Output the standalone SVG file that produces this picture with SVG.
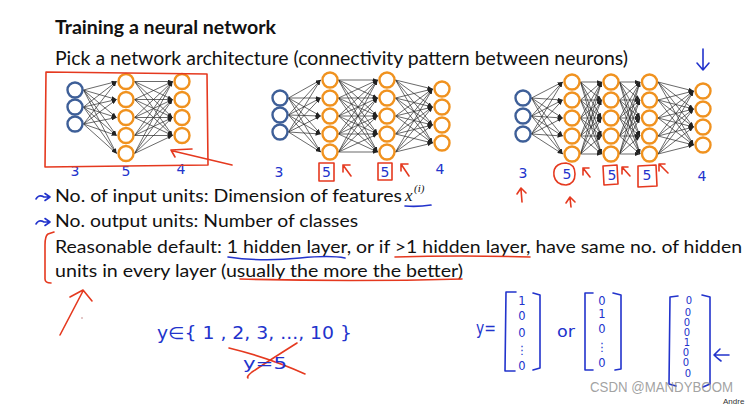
<svg xmlns="http://www.w3.org/2000/svg" width="749" height="404" viewBox="0 0 749 404">
<defs>
<style>
.t{font-family:Lato,"Open Sans","Liberation Sans",sans-serif;fill:#111;}
.in{fill:#fff;stroke:#3e5f98;stroke-width:2.4;}
.hd{fill:#fff;stroke:#f0921f;stroke-width:2.4;}
.e line{stroke:#2a2a2a;stroke-width:0.7;marker-end:url(#a);}
.b{font-family:"DejaVu Sans","Liberation Sans",sans-serif;fill:#2233cc;text-anchor:middle;}
.rp{fill:none;stroke:#e5391f;stroke-width:1.6;stroke-linecap:round;stroke-linejoin:round;}
.bp{fill:none;stroke:#2233cc;stroke-width:1.6;stroke-linecap:round;stroke-linejoin:round;}
</style>
<marker id="a" viewBox="0 0 10 8" refX="10" refY="4" markerWidth="5" markerHeight="4" markerUnits="userSpaceOnUse" orient="auto"><path d="M0,0 L10,4 L0,8 z" fill="#222"/></marker>
</defs>
<rect width="749" height="404" fill="#fff"/>

<text class="t" x="55" y="34" font-size="18.5" font-weight="bold" textLength="221" lengthAdjust="spacingAndGlyphs">Training a neural network</text>
<text class="t" x="55" y="65" font-size="18.5" textLength="573" lengthAdjust="spacingAndGlyphs">Pick a network architecture (connectivity pattern between neurons)</text>
<text class="t" x="55" y="201.5" font-size="17.5" textLength="347" lengthAdjust="spacingAndGlyphs">No. of input units: Dimension of features</text>
<text x="405" y="201" font-size="17" font-style="italic" font-family="'Liberation Serif',serif" fill="#111">x</text>
<text x="414" y="192" font-size="11" font-style="italic" font-family="'Liberation Serif',serif" fill="#111">(i)</text>
<text class="t" x="55" y="226.5" font-size="17.5" textLength="303" lengthAdjust="spacingAndGlyphs">No. output units: Number of classes</text>
<text class="t" x="55" y="252.5" font-size="17.5" textLength="687" lengthAdjust="spacingAndGlyphs">Reasonable default: 1 hidden layer, or if &gt;1 hidden layer, have same no. of hidden</text>
<text class="t" x="55" y="276.5" font-size="17.5" textLength="408" lengthAdjust="spacingAndGlyphs">units in every layer (usually the more the better)</text>

<g id="connectors" class="e">
<line x1="83.5" y1="90" x2="116.5" y2="81.5"/><line x1="83.5" y1="90" x2="116.5" y2="99.5"/><line x1="83.5" y1="90" x2="116.5" y2="117.5"/><line x1="83.5" y1="90" x2="116.5" y2="135.5"/><line x1="83.5" y1="90" x2="116.5" y2="153.5"/>
<line x1="83.5" y1="107" x2="116.5" y2="81.5"/><line x1="83.5" y1="107" x2="116.5" y2="99.5"/><line x1="83.5" y1="107" x2="116.5" y2="117.5"/><line x1="83.5" y1="107" x2="116.5" y2="135.5"/><line x1="83.5" y1="107" x2="116.5" y2="153.5"/>
<line x1="83.5" y1="124" x2="116.5" y2="81.5"/><line x1="83.5" y1="124" x2="116.5" y2="99.5"/><line x1="83.5" y1="124" x2="116.5" y2="117.5"/><line x1="83.5" y1="124" x2="116.5" y2="135.5"/><line x1="83.5" y1="124" x2="116.5" y2="153.5"/>
<line x1="134.5" y1="81.5" x2="172.5" y2="81.5"/><line x1="134.5" y1="81.5" x2="172.5" y2="99.5"/><line x1="134.5" y1="81.5" x2="172.5" y2="117.5"/><line x1="134.5" y1="81.5" x2="172.5" y2="135.5"/>
<line x1="134.5" y1="99.5" x2="172.5" y2="81.5"/><line x1="134.5" y1="99.5" x2="172.5" y2="99.5"/><line x1="134.5" y1="99.5" x2="172.5" y2="117.5"/><line x1="134.5" y1="99.5" x2="172.5" y2="135.5"/>
<line x1="134.5" y1="117.5" x2="172.5" y2="81.5"/><line x1="134.5" y1="117.5" x2="172.5" y2="99.5"/><line x1="134.5" y1="117.5" x2="172.5" y2="117.5"/><line x1="134.5" y1="117.5" x2="172.5" y2="135.5"/>
<line x1="134.5" y1="135.5" x2="172.5" y2="81.5"/><line x1="134.5" y1="135.5" x2="172.5" y2="99.5"/><line x1="134.5" y1="135.5" x2="172.5" y2="117.5"/><line x1="134.5" y1="135.5" x2="172.5" y2="135.5"/>
<line x1="134.5" y1="153.5" x2="172.5" y2="81.5"/><line x1="134.5" y1="153.5" x2="172.5" y2="99.5"/><line x1="134.5" y1="153.5" x2="172.5" y2="117.5"/><line x1="134.5" y1="153.5" x2="172.5" y2="135.5"/>
<line x1="288.5" y1="98" x2="320.5" y2="80"/><line x1="288.5" y1="98" x2="320.5" y2="98"/><line x1="288.5" y1="98" x2="320.5" y2="116"/><line x1="288.5" y1="98" x2="320.5" y2="134"/><line x1="288.5" y1="98" x2="320.5" y2="152"/>
<line x1="288.5" y1="115" x2="320.5" y2="80"/><line x1="288.5" y1="115" x2="320.5" y2="98"/><line x1="288.5" y1="115" x2="320.5" y2="116"/><line x1="288.5" y1="115" x2="320.5" y2="134"/><line x1="288.5" y1="115" x2="320.5" y2="152"/>
<line x1="288.5" y1="132" x2="320.5" y2="80"/><line x1="288.5" y1="132" x2="320.5" y2="98"/><line x1="288.5" y1="132" x2="320.5" y2="116"/><line x1="288.5" y1="132" x2="320.5" y2="134"/><line x1="288.5" y1="132" x2="320.5" y2="152"/>
<line x1="338.5" y1="80" x2="377.5" y2="80"/><line x1="338.5" y1="80" x2="377.5" y2="98"/><line x1="338.5" y1="80" x2="377.5" y2="116"/><line x1="338.5" y1="80" x2="377.5" y2="134"/><line x1="338.5" y1="80" x2="377.5" y2="152"/>
<line x1="338.5" y1="98" x2="377.5" y2="80"/><line x1="338.5" y1="98" x2="377.5" y2="98"/><line x1="338.5" y1="98" x2="377.5" y2="116"/><line x1="338.5" y1="98" x2="377.5" y2="134"/><line x1="338.5" y1="98" x2="377.5" y2="152"/>
<line x1="338.5" y1="116" x2="377.5" y2="80"/><line x1="338.5" y1="116" x2="377.5" y2="98"/><line x1="338.5" y1="116" x2="377.5" y2="116"/><line x1="338.5" y1="116" x2="377.5" y2="134"/><line x1="338.5" y1="116" x2="377.5" y2="152"/>
<line x1="338.5" y1="134" x2="377.5" y2="80"/><line x1="338.5" y1="134" x2="377.5" y2="98"/><line x1="338.5" y1="134" x2="377.5" y2="116"/><line x1="338.5" y1="134" x2="377.5" y2="134"/><line x1="338.5" y1="134" x2="377.5" y2="152"/>
<line x1="338.5" y1="152" x2="377.5" y2="80"/><line x1="338.5" y1="152" x2="377.5" y2="98"/><line x1="338.5" y1="152" x2="377.5" y2="116"/><line x1="338.5" y1="152" x2="377.5" y2="134"/><line x1="338.5" y1="152" x2="377.5" y2="152"/>
<line x1="395.5" y1="80" x2="432.5" y2="89"/><line x1="395.5" y1="80" x2="432.5" y2="107"/><line x1="395.5" y1="80" x2="432.5" y2="125"/><line x1="395.5" y1="80" x2="432.5" y2="143"/>
<line x1="395.5" y1="98" x2="432.5" y2="89"/><line x1="395.5" y1="98" x2="432.5" y2="107"/><line x1="395.5" y1="98" x2="432.5" y2="125"/><line x1="395.5" y1="98" x2="432.5" y2="143"/>
<line x1="395.5" y1="116" x2="432.5" y2="89"/><line x1="395.5" y1="116" x2="432.5" y2="107"/><line x1="395.5" y1="116" x2="432.5" y2="125"/><line x1="395.5" y1="116" x2="432.5" y2="143"/>
<line x1="395.5" y1="134" x2="432.5" y2="89"/><line x1="395.5" y1="134" x2="432.5" y2="107"/><line x1="395.5" y1="134" x2="432.5" y2="125"/><line x1="395.5" y1="134" x2="432.5" y2="143"/>
<line x1="395.5" y1="152" x2="432.5" y2="89"/><line x1="395.5" y1="152" x2="432.5" y2="107"/><line x1="395.5" y1="152" x2="432.5" y2="125"/><line x1="395.5" y1="152" x2="432.5" y2="143"/>
<line x1="531.5" y1="98" x2="562.5" y2="82"/><line x1="531.5" y1="98" x2="562.5" y2="100"/><line x1="531.5" y1="98" x2="562.5" y2="118"/><line x1="531.5" y1="98" x2="562.5" y2="136"/><line x1="531.5" y1="98" x2="562.5" y2="154"/>
<line x1="531.5" y1="116" x2="562.5" y2="82"/><line x1="531.5" y1="116" x2="562.5" y2="100"/><line x1="531.5" y1="116" x2="562.5" y2="118"/><line x1="531.5" y1="116" x2="562.5" y2="136"/><line x1="531.5" y1="116" x2="562.5" y2="154"/>
<line x1="531.5" y1="134" x2="562.5" y2="82"/><line x1="531.5" y1="134" x2="562.5" y2="100"/><line x1="531.5" y1="134" x2="562.5" y2="118"/><line x1="531.5" y1="134" x2="562.5" y2="136"/><line x1="531.5" y1="134" x2="562.5" y2="154"/>
<line x1="580.5" y1="82" x2="601.5" y2="82"/><line x1="580.5" y1="82" x2="601.5" y2="100"/><line x1="580.5" y1="82" x2="601.5" y2="118"/><line x1="580.5" y1="82" x2="601.5" y2="136"/><line x1="580.5" y1="82" x2="601.5" y2="154"/>
<line x1="580.5" y1="100" x2="601.5" y2="82"/><line x1="580.5" y1="100" x2="601.5" y2="100"/><line x1="580.5" y1="100" x2="601.5" y2="118"/><line x1="580.5" y1="100" x2="601.5" y2="136"/><line x1="580.5" y1="100" x2="601.5" y2="154"/>
<line x1="580.5" y1="118" x2="601.5" y2="82"/><line x1="580.5" y1="118" x2="601.5" y2="100"/><line x1="580.5" y1="118" x2="601.5" y2="118"/><line x1="580.5" y1="118" x2="601.5" y2="136"/><line x1="580.5" y1="118" x2="601.5" y2="154"/>
<line x1="580.5" y1="136" x2="601.5" y2="82"/><line x1="580.5" y1="136" x2="601.5" y2="100"/><line x1="580.5" y1="136" x2="601.5" y2="118"/><line x1="580.5" y1="136" x2="601.5" y2="136"/><line x1="580.5" y1="136" x2="601.5" y2="154"/>
<line x1="580.5" y1="154" x2="601.5" y2="82"/><line x1="580.5" y1="154" x2="601.5" y2="100"/><line x1="580.5" y1="154" x2="601.5" y2="118"/><line x1="580.5" y1="154" x2="601.5" y2="136"/><line x1="580.5" y1="154" x2="601.5" y2="154"/>
<line x1="619.5" y1="82" x2="640" y2="82"/><line x1="619.5" y1="82" x2="640" y2="100"/><line x1="619.5" y1="82" x2="640" y2="118"/><line x1="619.5" y1="82" x2="640" y2="136"/><line x1="619.5" y1="82" x2="640" y2="154"/>
<line x1="619.5" y1="100" x2="640" y2="82"/><line x1="619.5" y1="100" x2="640" y2="100"/><line x1="619.5" y1="100" x2="640" y2="118"/><line x1="619.5" y1="100" x2="640" y2="136"/><line x1="619.5" y1="100" x2="640" y2="154"/>
<line x1="619.5" y1="118" x2="640" y2="82"/><line x1="619.5" y1="118" x2="640" y2="100"/><line x1="619.5" y1="118" x2="640" y2="118"/><line x1="619.5" y1="118" x2="640" y2="136"/><line x1="619.5" y1="118" x2="640" y2="154"/>
<line x1="619.5" y1="136" x2="640" y2="82"/><line x1="619.5" y1="136" x2="640" y2="100"/><line x1="619.5" y1="136" x2="640" y2="118"/><line x1="619.5" y1="136" x2="640" y2="136"/><line x1="619.5" y1="136" x2="640" y2="154"/>
<line x1="619.5" y1="154" x2="640" y2="82"/><line x1="619.5" y1="154" x2="640" y2="100"/><line x1="619.5" y1="154" x2="640" y2="118"/><line x1="619.5" y1="154" x2="640" y2="136"/><line x1="619.5" y1="154" x2="640" y2="154"/>
<line x1="658" y1="82" x2="693.5" y2="91"/><line x1="658" y1="82" x2="693.5" y2="109"/><line x1="658" y1="82" x2="693.5" y2="127"/><line x1="658" y1="82" x2="693.5" y2="145"/>
<line x1="658" y1="100" x2="693.5" y2="91"/><line x1="658" y1="100" x2="693.5" y2="109"/><line x1="658" y1="100" x2="693.5" y2="127"/><line x1="658" y1="100" x2="693.5" y2="145"/>
<line x1="658" y1="118" x2="693.5" y2="91"/><line x1="658" y1="118" x2="693.5" y2="109"/><line x1="658" y1="118" x2="693.5" y2="127"/><line x1="658" y1="118" x2="693.5" y2="145"/>
<line x1="658" y1="136" x2="693.5" y2="91"/><line x1="658" y1="136" x2="693.5" y2="109"/><line x1="658" y1="136" x2="693.5" y2="127"/><line x1="658" y1="136" x2="693.5" y2="145"/>
<line x1="658" y1="154" x2="693.5" y2="91"/><line x1="658" y1="154" x2="693.5" y2="109"/><line x1="658" y1="154" x2="693.5" y2="127"/><line x1="658" y1="154" x2="693.5" y2="145"/>
</g>

<g id="n1-i1"><circle class="in" cx="75" cy="90" r="7.5"/></g>
<g id="n1-i2"><circle class="in" cx="75" cy="107" r="7.5"/></g>
<g id="n1-i3"><circle class="in" cx="75" cy="124" r="7.5"/></g>
<g id="n1-h1"><circle class="hd" cx="126" cy="81.5" r="7.5"/></g>
<g id="n1-h2"><circle class="hd" cx="126" cy="99.5" r="7.5"/></g>
<g id="n1-h3"><circle class="hd" cx="126" cy="117.5" r="7.5"/></g>
<g id="n1-h4"><circle class="hd" cx="126" cy="135.5" r="7.5"/></g>
<g id="n1-h5"><circle class="hd" cx="126" cy="153.5" r="7.5"/></g>
<g id="n1-o1"><circle class="hd" cx="182" cy="81.5" r="7.5"/></g>
<g id="n1-o2"><circle class="hd" cx="182" cy="99.5" r="7.5"/></g>
<g id="n1-o3"><circle class="hd" cx="182" cy="117.5" r="7.5"/></g>
<g id="n1-o4"><circle class="hd" cx="182" cy="135.5" r="7.5"/></g>

<g id="n2-i1"><circle class="in" cx="280" cy="98" r="7.5"/></g>
<g id="n2-i2"><circle class="in" cx="280" cy="115" r="7.5"/></g>
<g id="n2-i3"><circle class="in" cx="280" cy="132" r="7.5"/></g>
<g id="n2-a1"><circle class="hd" cx="330" cy="80" r="7.5"/></g>
<g id="n2-a2"><circle class="hd" cx="330" cy="98" r="7.5"/></g>
<g id="n2-a3"><circle class="hd" cx="330" cy="116" r="7.5"/></g>
<g id="n2-a4"><circle class="hd" cx="330" cy="134" r="7.5"/></g>
<g id="n2-a5"><circle class="hd" cx="330" cy="152" r="7.5"/></g>
<g id="n2-b1"><circle class="hd" cx="387" cy="80" r="7.5"/></g>
<g id="n2-b2"><circle class="hd" cx="387" cy="98" r="7.5"/></g>
<g id="n2-b3"><circle class="hd" cx="387" cy="116" r="7.5"/></g>
<g id="n2-b4"><circle class="hd" cx="387" cy="134" r="7.5"/></g>
<g id="n2-b5"><circle class="hd" cx="387" cy="152" r="7.5"/></g>
<g id="n2-o1"><circle class="hd" cx="442" cy="89" r="7.5"/></g>
<g id="n2-o2"><circle class="hd" cx="442" cy="107" r="7.5"/></g>
<g id="n2-o3"><circle class="hd" cx="442" cy="125" r="7.5"/></g>
<g id="n2-o4"><circle class="hd" cx="442" cy="143" r="7.5"/></g>

<g id="n3-i1"><circle class="in" cx="523" cy="98" r="7.5"/></g>
<g id="n3-i2"><circle class="in" cx="523" cy="116" r="7.5"/></g>
<g id="n3-i3"><circle class="in" cx="523" cy="134" r="7.5"/></g>
<g id="n3-a1"><circle class="hd" cx="572" cy="82" r="7.5"/></g>
<g id="n3-a2"><circle class="hd" cx="572" cy="100" r="7.5"/></g>
<g id="n3-a3"><circle class="hd" cx="572" cy="118" r="7.5"/></g>
<g id="n3-a4"><circle class="hd" cx="572" cy="136" r="7.5"/></g>
<g id="n3-a5"><circle class="hd" cx="572" cy="154" r="7.5"/></g>
<g id="n3-b1"><circle class="hd" cx="611" cy="82" r="7.5"/></g>
<g id="n3-b2"><circle class="hd" cx="611" cy="100" r="7.5"/></g>
<g id="n3-b3"><circle class="hd" cx="611" cy="118" r="7.5"/></g>
<g id="n3-b4"><circle class="hd" cx="611" cy="136" r="7.5"/></g>
<g id="n3-b5"><circle class="hd" cx="611" cy="154" r="7.5"/></g>
<g id="n3-c1"><circle class="hd" cx="649.5" cy="82" r="7.5"/></g>
<g id="n3-c2"><circle class="hd" cx="649.5" cy="100" r="7.5"/></g>
<g id="n3-c3"><circle class="hd" cx="649.5" cy="118" r="7.5"/></g>
<g id="n3-c4"><circle class="hd" cx="649.5" cy="136" r="7.5"/></g>
<g id="n3-c5"><circle class="hd" cx="649.5" cy="154" r="7.5"/></g>
<g id="n3-o1"><circle class="hd" cx="703" cy="91" r="7.5"/></g>
<g id="n3-o2"><circle class="hd" cx="703" cy="109" r="7.5"/></g>
<g id="n3-o3"><circle class="hd" cx="703" cy="127" r="7.5"/></g>
<g id="n3-o4"><circle class="hd" cx="703" cy="145" r="7.5"/></g>

<g font-size="14">
<text class="b" x="75" y="176">3</text>
<text class="b" x="126" y="176">5</text>
<text class="b" x="181" y="174">4</text>
<text class="b" x="279" y="177">3</text>
<text class="b" x="326.5" y="177">5</text>
<text class="b" x="385" y="177">5</text>
<text class="b" x="440" y="174">4</text>
<text class="b" x="523" y="178">3</text>
<text class="b" x="567" y="179">5</text>
<text class="b" x="612" y="180">5</text>
<text class="b" x="647" y="180">5</text>
<text class="b" x="702" y="181">4</text>
</g>

<path class="rp" d="M46,72 L207,74 L208,165 L45,167 L46,72"/>
<path class="rp" d="M232,165 L173,151 M171,150 L192,149 M171,150 L175,157"/>
<path class="rp" d="M319,163 L334,163 L334,181 L319,181 Z"/>
<path class="rp" d="M378,163 L392,163 L392,180 L378,180 Z"/>
<path class="rp" d="M351,176 L343,165 M343,165 L350,165 M343,165 L343,172"/>
<path class="rp" d="M409,176 L401,164 M401,164 L408,164 M401,164 L401,171"/>
<path class="rp" d="M558,165 Q553,168 554,176 Q556,185 566,185 Q575,184 575,174 Q575,164 566,163 Q561,163 558,165"/>
<path class="rp" d="M590,177 L583,168 M583,168 L589,168 M583,168 L583,175"/>
<path class="rp" d="M603,166 L617,165 L618,184 L604,185 Z"/>
<path class="rp" d="M630,176 L622,167 M622,167 L628,167 M622,167 L622,174"/>
<path class="rp" d="M638,166 L656,165 L657,186 L638,187 Z"/>
<path class="rp" d="M668,173 L659,164 M659,164 L665,164 M659,164 L659,171"/>
<path class="rp" d="M522,202 L521,189 M517,194 L521,188 L526,193"/>
<path class="rp" d="M571,207 L570,198 M566,203 L570,197 L575,202"/>
<path class="rp" d="M54,232 L48,234 Q45,236 45,245 L45,279 Q45,283 51,283"/>
<path class="rp" d="M395,257 Q460,255 530,257"/>
<path class="rp" d="M240,279 Q350,282 462,279"/>
<path class="rp" d="M60,335 L83,291 M70,297 L83,290 L92,301"/>
<path class="rp" d="M229,348 Q270,358 305,374"/>
<path class="rp" d="M297,343 Q270,360 252,372 Q246,377 248,378"/>

<path class="bp" d="M36,199 Q39,194 44,197 L50,197 M45,193.5 L50,197 L45,200.5"/>
<path class="bp" d="M36,224 Q39,219 44,222 L50,222 M45,218.5 L50,222 L45,225.5"/>
<path class="bp" d="M405,206 Q418,207 431,205"/>
<path class="bp" d="M228,257 Q262,262 300,258 Q330,255 345,258"/>
<path class="bp" d="M703,49 L703,70 M697,63 L703,70 L709,63"/>
<circle cx="82" cy="318" r="0.8" fill="#c08080"/>

<text x="157" y="339" font-size="17" font-family="'DejaVu Sans',sans-serif" fill="#2233cc" textLength="195" lengthAdjust="spacingAndGlyphs">y∈{ 1 , 2, 3, ..., 10 }</text>
<text x="243" y="369" font-size="16" font-family="'DejaVu Sans',sans-serif" fill="#2233cc" textLength="44" lengthAdjust="spacingAndGlyphs">y=5</text>

<text x="476" y="334" font-size="17" font-family="'DejaVu Sans',sans-serif" fill="#2233cc" textLength="20" lengthAdjust="spacingAndGlyphs">y=</text>
<path class="bp" d="M516,292 L506,292 L505,371 L515,371"/>
<path class="bp" d="M533,293 L540,295 L540,368 L533,370"/>
<g font-size="11.5">
<text class="b" x="522" y="305">1</text>
<text class="b" x="522" y="320">0</text>
<text class="b" x="522" y="337">0</text>
<text class="b" x="522" y="354">⋮</text>
<text class="b" x="522" y="370">0</text>
</g>
<text x="557" y="337" font-size="15" font-family="'DejaVu Sans',sans-serif" fill="#2233cc" textLength="18" lengthAdjust="spacingAndGlyphs">or</text>
<path class="bp" d="M593,293 L585,293 L585,370 L593,370"/>
<path class="bp" d="M613,293 L621,295 L621,369 L615,370"/>
<g font-size="11.5">
<text class="b" x="602" y="305">0</text>
<text class="b" x="602" y="318">1</text>
<text class="b" x="602" y="333">0</text>
<text class="b" x="602" y="351">⋮</text>
<text class="b" x="602" y="367">0</text>
</g>
<path class="bp" d="M678,296 L670,297 L669,384 L676,386"/>
<path class="bp" d="M702,295 L710,297 L710,384 L703,387"/>
<g font-size="10">
<text class="b" x="689" y="304">0</text>
<text class="b" x="688" y="316">0</text>
<text class="b" x="687" y="326">0</text>
<text class="b" x="687" y="336">0</text>
<text class="b" x="687" y="346">1</text>
<text class="b" x="686" y="356">0</text>
<text class="b" x="686" y="366">0</text>
<text class="b" x="688" y="377">0</text>
</g>
<path class="bp" d="M729,355 L714,355 M720,349 Q716,353 714,355 Q717,358 721,361"/>

<text x="590" y="392" font-size="15" font-family="'Liberation Sans',sans-serif" fill="#8a8a8a" fill-opacity="0.8" textLength="143" lengthAdjust="spacingAndGlyphs">CSDN @MANDYBOOM</text>
<text x="723" y="403.5" font-size="8" font-family="'Liberation Sans',sans-serif" fill="#333">Andre</text>
</svg>
